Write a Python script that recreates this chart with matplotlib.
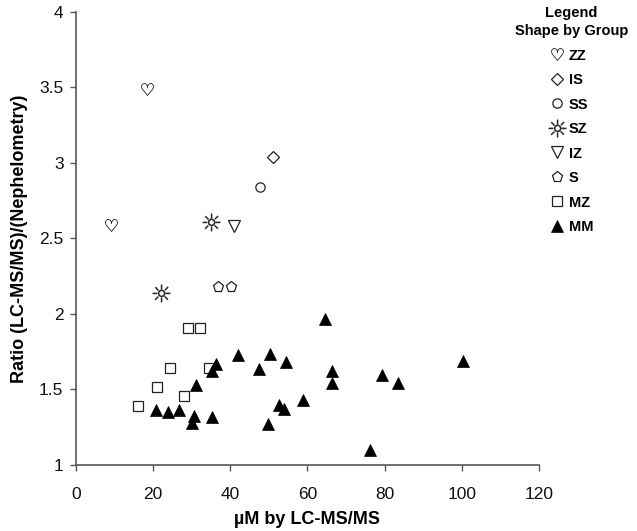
import matplotlib
matplotlib.use("Agg")
import matplotlib.pyplot as plt
from matplotlib.lines import Line2D

plt.rcParams['font.family'] = ['Liberation Sans', 'DejaVu Sans']
plt.rcParams['mathtext.fontset'] = 'dejavusans'

# data
zz_x = [18.5, 9.2]
zz_y = [3.49, 2.59]
is_x = [51.1]
is_y = [3.04]
ss_x = [47.7]
ss_y = [2.84]
sz_x = [35.0, 22.1]
sz_y = [2.61, 2.14]
iz_x = [41.0]
iz_y = [2.585]
s_x = [36.9, 40.2]
s_y = [2.18, 2.18]
mz_x = [29.1, 32.1, 24.4, 34.6, 20.9, 28.0, 16.0]
mz_y = [1.91, 1.91, 1.64, 1.64, 1.515, 1.46, 1.39]
mm_x = [64.6, 41.9, 50.3, 54.5, 36.3, 35.2, 47.5, 66.3, 66.4, 31.0, 58.9, 52.7,
        53.8, 20.7, 23.8, 26.8, 30.7, 30.0, 35.2, 49.9, 79.3, 83.4, 100.4, 76.2]
mm_y = [1.965, 1.73, 1.733, 1.68, 1.667, 1.62, 1.634, 1.625, 1.545, 1.53, 1.43, 1.40,
        1.37, 1.364, 1.353, 1.364, 1.325, 1.28, 1.316, 1.27, 1.596, 1.54, 1.69, 1.10]

x_ticks = [0, 20, 40, 60, 80, 100, 120]
y_ticks = [1, 1.5, 2, 2.5, 3, 3.5, 4]
y_tick_labels = ['1', '1.5', '2', '2.5', '3', '3.5', '4']

edge = '#222222'
groups = [
    ('ZZ', zz_x, zz_y, dict(marker='$\u2661$', ms=9, mfc='white', mec=edge, mew=0.3)),
    ('IS', is_x, is_y, dict(marker='D', ms=6, mfc='white', mec=edge, mew=0.9)),
    ('SS', ss_x, ss_y, dict(marker='o', ms=6.7, mfc='white', mec=edge, mew=0.9)),
    ('SZ', sz_x, sz_y, dict(marker='$\u263C$', ms=12.5, mfc=edge, mec=edge, mew=0.3)),
    ('IZ', iz_x, iz_y, dict(marker='v', ms=8, mfc='white', mec=edge, mew=0.9)),
    ('S', s_x, s_y, dict(marker='p', ms=8, mfc='white', mec=edge, mew=0.9)),
    ('MZ', mz_x, mz_y, dict(marker='s', ms=6.5, mfc='white', mec=edge, mew=0.9)),
    ('MM', mm_x, mm_y, dict(marker='^', ms=8.5, mfc='black', mec='black', mew=0.5)),
]

fig = plt.figure(figsize=(6.37, 5.31), dpi=100)
ax = fig.add_axes([0.1193, 0.1243, 0.7267, 0.8531])

handles = []
for name, xs, ys, st in groups:
    ax.plot(xs, ys, ls='none', **st)
    handles.append(Line2D([], [], ls='none', label=name, **st))

ax.set_xlim(0, 120)
ax.set_ylim(1, 4)
ax.set_xticks(x_ticks)
ax.set_yticks(y_ticks)
ax.set_yticklabels(y_tick_labels)
ax.tick_params(direction='out', length=4, width=1, color='#555555',
               labelsize=12.5, labelcolor='#111111')
ax.tick_params(axis='x', pad=12)
ax.tick_params(axis='y', pad=5)
for side in ['top', 'right']:
    ax.spines[side].set_visible(False)
for side in ['left', 'bottom']:
    ax.spines[side].set_color('#555555')
    ax.spines[side].set_linewidth(1.2)

ax.set_xlabel('\u00b5M by LC-MS/MS', fontsize=13, fontweight='bold', labelpad=6)
ax.set_ylabel('Ratio (LC-MS/MS)/(Nephelometry)', fontsize=13, fontweight='bold',
              labelpad=8)

leg = fig.legend(handles=handles, loc='upper center', bbox_to_anchor=(0.897, 1.013),
                 frameon=False, title='Legend\nShape by Group',
                 title_fontproperties={'weight': 'bold', 'size': 10.5},
                 prop={'weight': 'bold', 'size': 10.5}, handlelength=1.0,
                 handletextpad=0.3, labelspacing=0.72, alignment='center')
leg.get_title().set_multialignment('center')
leg.get_title().set_linespacing(1.35)

fig.savefig('out.png', dpi=100)
